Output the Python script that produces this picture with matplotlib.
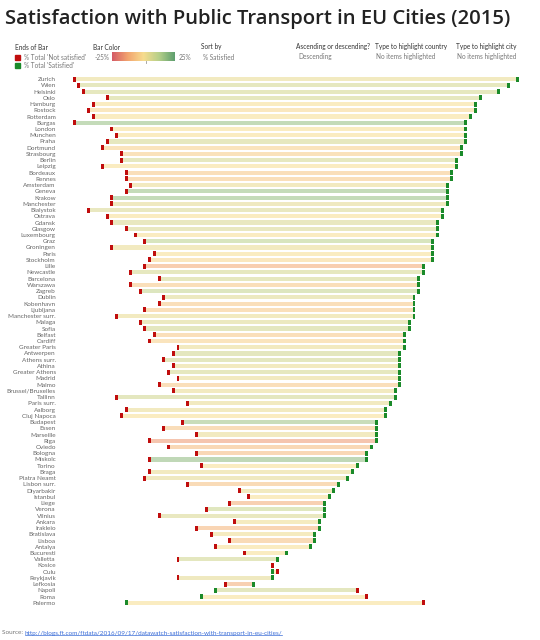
import numpy as np
import matplotlib
matplotlib.use("Agg")
import matplotlib.pyplot as plt
from matplotlib.colors import LinearSegmentedColormap, to_rgb
from matplotlib.patches import Rectangle
from matplotlib.lines import Line2D

# Data, sorted by % satisfied, descending
cities = ["Zurich", "Wien", "Helsinki", "Oslo", "Hamburg", "Rostock", "Rotterdam",
          "Burgas", "London", "Munchen", "Praha", "Dortmund", "Strasbourg", "Berlin",
          "Leipzig", "Bordeaux", "Rennes", "Amsterdam", "Geneva", "Krakow",
          "Manchester", "Bialystok", "Ostrava", "Gdansk", "Glasgow", "Luxembourg",
          "Graz", "Groningen", "Paris", "Stockholm", "Lille", "Newcastle",
          "Barcelona", "Warszawa", "Zagreb", "Dublin", "Kobenhavn", "Ljubljana",
          "Manchester surr.", "Malaga", "Sofia", "Belfast", "Cardiff",
          "Greater Paris", "Antwerpen", "Athens surr.", "Athina", "Greater Athens",
          "Madrid", "Malmo", "Brussel/Bruxelles", "Tallinn", "Paris surr.",
          "Aalborg", "Cluj Napoca", "Budapest", "Essen", "Marseille", "Riga",
          "Oviedo", "Bologna", "Miskolc", "Torino", "Braga", "Piatra Neamt",
          "Lisbon surr.", "Diyarbakir", "Istanbul", "Liege", "Verona", "Vilnius",
          "Ankara", "Irakleio", "Bratislava", "Lisboa", "Antalya", "Bucuresti",
          "Valletta", "Kosice", "Oulu", "Reykjavik", "Lefkosia", "Napoli", "Roma",
          "Palermo"]

not_satisfied = [3, 4, 5, 10, 7, 6, 7, 3, 11, 12, 10, 9, 13, 13, 9, 14, 14, 15, 14, 11,
                 11, 6, 10, 11, 14, 16, 18, 11, 20, 19, 18, 15, 21, 15, 17, 22, 21, 18,
                 12, 17, 18, 20, 19, 25, 24, 22, 24, 23, 25, 21, 24, 12, 27, 14, 13, 26,
                 22, 29, 19, 23, 29, 19, 30, 19, 18, 27, 38, 40, 36, 31, 21, 37, 29, 32,
                 36, 33, 39, 25, 45, 46, 25, 35, 63, 65, 77]

satisfied = [97, 95, 93, 89, 88, 88, 87, 86, 86, 86, 86, 85, 85, 84, 84, 83, 83, 82, 82, 82,
             82, 81, 81, 80, 80, 80, 79, 79, 79, 79, 77, 77, 76, 76, 76, 75, 75, 75,
             75, 74, 74, 73, 73, 73, 72, 72, 72, 72, 72, 72, 71, 71, 70, 69, 69, 67,
             67, 67, 67, 66, 65, 65, 63, 62, 61, 59, 58, 57, 56, 56, 56, 55, 55, 54,
             54, 53, 48, 46, 45, 45, 45, 41, 33, 30, 14]

# bar colour value, -25% .. 25%
bar_color = [3, 7, 7, 7, 0, -2, 0, 17, 0, 0, 7, -3, -4, 7, 0, -5, -5, 3, 17, 17,
             4, 6, 0, 6, 6, 0, 12, 3, 0, -2, -12, 7, 7, -5, 10, 5, -5, -5,
             3, 5, 8, -5, -3, 3, 8, 8, 3, 7, 3, -5, 3, 8, 3, 3, 0, 16,
             -6, 3, -15, -8, -8, 18, 0, 3, 4, -7, 3, 0, -11, 9, 6, 2, -9, 2,
             -7, 0, 0, 8, 0, 0, 4, -11, 8, 0, 0]

cmap = LinearSegmentedColormap.from_list(
    "rdylgn_tab", ["#d45a66", "#f2a46f", "#f7dc8e", "#b5cf89", "#5d9e6e"])


def pale(c, a=0.55):
    r, g, b = to_rgb(c)
    return (1 - a * (1 - r), 1 - a * (1 - g), 1 - a * (1 - b))


fig = plt.figure(figsize=(5.4, 6.4), dpi=100)
W, H = 540, 640

ax = fig.add_axes([60 / W, 1 - 606 / H, 472 / W, 530 / H])
n = len(cities)
y = np.arange(n)

for i in range(n):
    lo = min(not_satisfied[i], satisfied[i])
    hi = max(not_satisfied[i], satisfied[i])
    col = pale(cmap((bar_color[i] + 25) / 50))
    ax.barh(i, hi - lo, left=lo, height=0.66, color=col, linewidth=0)
    ax.add_patch(Rectangle((satisfied[i] - 0.31, i - 0.4), 0.62, 0.8,
                           color="#1a8a2a", linewidth=0, zorder=3))
    ax.add_patch(Rectangle((not_satisfied[i] - 0.31, i - 0.4), 0.62, 0.8,
                           color="#c00d0d", linewidth=0, zorder=4))

ax.set_xlim(0, 100)
ax.set_ylim(n - 0.5, -0.5)
ax.set_yticks(y)
ax.set_yticklabels(cities, fontsize=4.6, color="#666666", family="Lato")
ax.tick_params(axis="y", length=0, pad=3)
ax.set_xticks([])
for s in ax.spines.values():
    s.set_visible(False)

# Title
fig.text(5 / W, 1 - 19 / H, "Satisfaction with Public Transport in EU Cities (2015)",
         fontsize=14.6, family="Open Sans", weight="semibold", color="#222222",
         va="center", ha="left")

# Legend / controls
lab = dict(fontsize=4.7, family="Lato", color="#333333", va="center", ha="left")
val = dict(fontsize=4.7, family="Lato", color="#777777", va="center", ha="left")
fig.text(15 / W, 1 - 47 / H, "Ends of Bar", **lab)
fig.patches.append(Rectangle((15 / W, 1 - 60 / H), 5 / W, 5 / H, color="#c00d0d",
                             transform=fig.transFigure, figure=fig))
fig.text(24 / W, 1 - 57.5 / H, "% Total 'Not satisfied'", **val)
fig.patches.append(Rectangle((15 / W, 1 - 68 / H), 5 / W, 5 / H, color="#1a8a2a",
                             transform=fig.transFigure, figure=fig))
fig.text(24 / W, 1 - 65.5 / H, "% Total 'Satisfied'", **val)

fig.text(93 / W, 1 - 47 / H, "Bar Color", **lab)
fig.text(95 / W, 1 - 57 / H, "-25%", **val)
fig.text(179 / W, 1 - 57 / H, "25%", **val)
cax = fig.add_axes([112 / W, 1 - 61 / H, 63 / W, 9 / H])
cax.imshow(np.linspace(0, 1, 256)[None, :], aspect="auto", cmap=cmap)
cax.axis("off")
fig.add_artist(Line2D([146 / W, 146 / W], [1 - 61 / H, 1 - 63 / H], color="#999999",
                      lw=0.6, transform=fig.transFigure))

fig.text(201 / W, 1 - 47 / H, "Sort by", **lab)
fig.text(203 / W, 1 - 57 / H, "% Satisfied", **val)
fig.text(296 / W, 1 - 47 / H, "Ascending or descending?", **lab)
fig.text(298 / W, 1 - 57 / H, "Descending", **val)
fig.text(375 / W, 1 - 47 / H, "Type to highlight country", **lab)
fig.text(376 / W, 1 - 57 / H, "No items highlighted", **val)
fig.text(456 / W, 1 - 47 / H, "Type to highlight city", **lab)
fig.text(457 / W, 1 - 57 / H, "No items highlighted", **val)

# Source line
src = fig.text(2 / W, 1 - 633 / H, "Source: ", fontsize=4.6, family="Lato",
               color="#777777", va="center", ha="left")
fig.canvas.draw()
bb = src.get_window_extent()
x0 = bb.x1 / W
url = fig.text(x0, 1 - 633 / H,
               "http://blogs.ft.com/ftdata/2016/09/17/datawatch-satisfaction-with-transport-in-eu-cities/",
               fontsize=4.6, family="Lato", color="#3c6ed8", va="center", ha="left")
fig.canvas.draw()
ub = url.get_window_extent()
fig.add_artist(Line2D([ub.x0 / W, ub.x1 / W], [(ub.y0 + 0.5) / H, (ub.y0 + 0.5) / H],
                      color="#3c6ed8", lw=0.5, transform=fig.transFigure))

fig.savefig("out.png", dpi=100)
